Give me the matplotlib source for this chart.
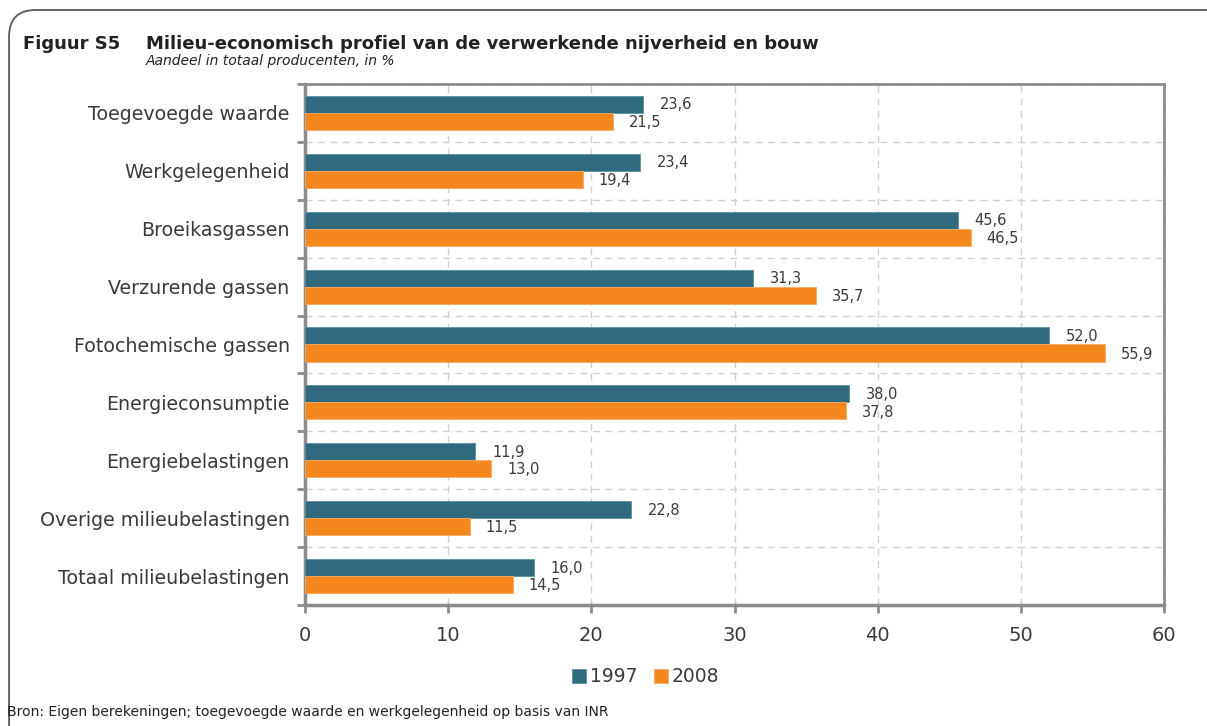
import matplotlib
matplotlib.use('Agg')
import numpy as np
import matplotlib.pyplot as plt
from matplotlib.patches import FancyBboxPatch

categories = ['Toegevoegde waarde', 'Werkgelegenheid', 'Broeikasgassen',
              'Verzurende gassen', 'Fotochemische gassen', 'Energieconsumptie',
              'Energiebelastingen', 'Overige milieubelastingen', 'Totaal milieubelastingen']
v1997 = [23.6, 23.4, 45.6, 31.3, 52.0, 38.0, 11.9, 22.8, 16.0]
v2008 = [21.5, 19.4, 46.5, 35.7, 55.9, 37.8, 13.0, 11.5, 14.5]
series_names = ['1997', '2008']
xticks = [0, 10, 20, 30, 40, 50, 60]

C1 = '#2f6a7e'
C2 = '#f5871f'
GRID = '#d0d0d0'
SPINE = '#8c8c8c'
TXT = '#3a3a3a'

plt.rcParams['font.family'] = ['DejaVu Sans']

fig = plt.figure(figsize=(12.07, 7.26), dpi=100)
ax = fig.add_axes([0.2527, 0.1667, 0.7117, 0.7176])

# rounded frame, runs off the right and bottom edge
frame = FancyBboxPatch((0.0075, -0.1), 1.2, 1.0862, boxstyle='round,pad=0,rounding_size=0.022',
                       transform=fig.transFigure, fill=False, edgecolor='#5a5a5a', lw=1.3,
                       mutation_aspect=1207 / 726, clip_on=False)
fig.add_artist(frame)

n = len(categories)
y = np.arange(n)
h = 0.295
ax.barh(y - h / 2, v1997, height=h, color=C1, edgecolor='#5d8fa0', lw=0.6, label=series_names[0], zorder=3)
ax.barh(y + h / 2, v2008, height=h, color=C2, edgecolor='#f8a860', lw=0.6, label=series_names[1], zorder=3)

for i in range(n):
    ax.annotate(f'{v1997[i]:.1f}'.replace('.', ','), (v1997[i], y[i] - h / 2 + 0.01),
                xytext=(12, 0), textcoords='offset points', va='center', ha='left',
                fontsize=10.5, color=TXT)
    ax.annotate(f'{v2008[i]:.1f}'.replace('.', ','), (v2008[i], y[i] + h / 2 + 0.02),
                xytext=(11.5, 0), textcoords='offset points', va='center', ha='left',
                fontsize=10.5, color=TXT)

ax.set_xlim(0, 60)
ax.set_ylim(n - 0.5, -0.5)
ax.set_xticks(xticks)
ax.set_xticklabels([str(t) for t in xticks], fontsize=14, color=TXT)
ax.set_yticks(y)
ax.set_yticklabels(categories, fontsize=13.7, color=TXT)
ax.tick_params(axis='y', length=0, pad=11)
ax.set_yticks(np.arange(-0.5, n, 1), minor=True)
ax.tick_params(axis='y', which='minor', length=6, width=2, color=SPINE, direction='out')
ax.tick_params(axis='x', length=6, width=2, color=SPINE, pad=9)

ax.grid(True, axis='x', which='major', ls=(0, (5, 4)), color=GRID, lw=1, zorder=0)
ax.grid(True, axis='y', which='minor', ls=(0, (5, 4)), color=GRID, lw=1, zorder=0)
for s in ax.spines.values():
    s.set_color(SPINE)
    s.set_linewidth(2.5)
ax.spines['top'].set_linewidth(2)
ax.spines['right'].set_linewidth(2)

ax.legend(loc='center', bbox_to_anchor=(0.535, 0.0675), bbox_transform=fig.transFigure,
          ncol=2, frameon=False, fontsize=13.5, handlelength=0.75, handleheight=0.75,
          handletextpad=0.2, columnspacing=0.9, labelcolor=TXT)

fig.text(0.019, 0.94, 'Figuur S5', fontsize=13, fontweight='bold', color='#222222', va='center')
fig.text(0.121, 0.94, 'Milieu-economisch profiel van de verwerkende nijverheid en bouw',
         fontsize=13, fontweight='bold', color='#222222', va='center')
fig.text(0.121, 0.916, 'Aandeel in totaal producenten, in %', fontsize=10, style='italic',
         color='#222222', va='center')
fig.text(0.006, 0.019, 'Bron: Eigen berekeningen; toegevoegde waarde en werkgelegenheid op basis van INR',
         fontsize=10, color='#222222', va='center')

plt.savefig('out.png', dpi=100)
